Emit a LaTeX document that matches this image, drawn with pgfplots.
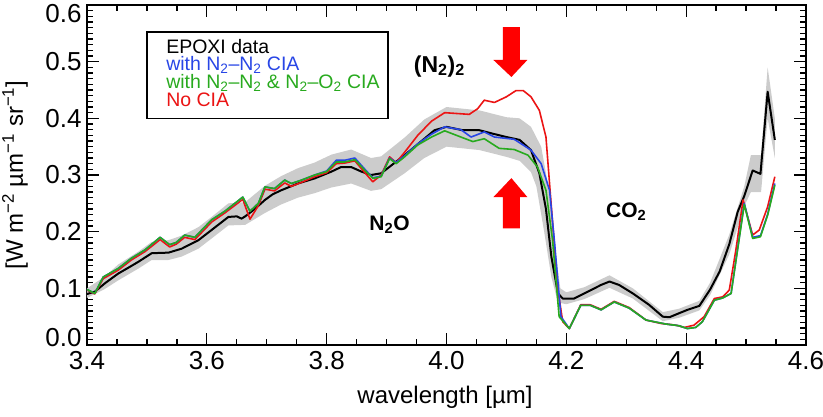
\documentclass[border=0pt]{standalone}
\usepackage{fontspec}
\setmainfont{Liberation Sans}
\usepackage{pgfplots}
\pgfplotsset{compat=1.18}
\definecolor{cblue}{RGB}{40,70,230}
\definecolor{cgreen}{RGB}{40,170,30}
\definecolor{cred}{RGB}{235,20,20}
\definecolor{band}{RGB}{204,204,204}
\begin{document}
\begin{tikzpicture}
\begin{axis}[
  scale only axis, width=719pt, height=340pt,
  xmin=3.4, xmax=4.6, ymin=0, ymax=0.6,
  xtick={3.4,3.6,3.8,4.0,4.2,4.4,4.6},
  xticklabels={3.4,3.6,3.8,4.0,4.2,4.4,4.6},
  ytick={0,0.1,0.2,0.3,0.4,0.5,0.6},
  yticklabels={{\raisebox{0pt}[\height][16pt]{0.0}},0.1,0.2,0.3,0.4,0.5,{\raisebox{0pt}[\dimexpr\height+16pt\relax][0pt]{0.6}}},
  minor x tick num=3, minor y tick num=9,
  major tick length=12pt, minor tick length=6pt,
  tick align=inside, tick style={line width=1.3pt, black},
  axis line style={line width=1.6pt},
  tick label style={font=\fontsize{26}{30}\selectfont},
  xticklabel shift=3pt, yticklabel shift=2pt,
  label style={font=\fontsize{24}{28}\selectfont},
  xlabel={wavelength [µm]},
  ylabel={[W m\textsuperscript{−2} µm\textsuperscript{−1} sr\textsuperscript{−1}]},
  xlabel style={at={(axis description cs:0.498,-0.155)}, anchor=center},
  ylabel style={at={(axis description cs:-0.1,0.5)}, anchor=center, rotate=0},
]
% uncertainty band
\addplot[fill=band, draw=none] coordinates {
(3.400,0.100) (3.430,0.121) (3.452,0.142) (3.486,0.165) (3.508,0.182) (3.536,0.185)
(3.558,0.193) (3.586,0.208) (3.608,0.226) (3.636,0.250) (3.664,0.252) (3.697,0.281)
(3.724,0.298) (3.752,0.312) (3.780,0.322) (3.808,0.336) (3.841,0.345) (3.874,0.330)
(3.891,0.333) (3.930,0.366) (3.963,0.398) (4.000,0.420) (4.055,0.414) (4.100,0.402)
(4.122,0.400) (4.141,0.385) (4.158,0.350) (4.170,0.280) (4.180,0.180) (4.190,0.100)
(4.200,0.093) (4.230,0.102) (4.272,0.123) (4.311,0.100) (4.361,0.058) (4.388,0.064)
(4.422,0.078) (4.440,0.110) (4.472,0.195) (4.497,0.280) (4.508,0.335) (4.525,0.335)
(4.536,0.490) (4.548,0.400)
(4.548,0.330) (4.536,0.400) (4.525,0.270) (4.508,0.270) (4.497,0.245) (4.472,0.160)
(4.440,0.088) (4.422,0.061) (4.388,0.048) (4.361,0.042) (4.311,0.082) (4.272,0.101)
(4.230,0.081) (4.200,0.072) (4.186,0.075) (4.175,0.120) (4.163,0.200) (4.150,0.280)
(4.141,0.305) (4.122,0.325) (4.100,0.332) (4.055,0.344) (4.000,0.350) (3.963,0.330)
(3.930,0.303) (3.891,0.275) (3.874,0.272) (3.841,0.285) (3.808,0.278) (3.780,0.268)
(3.752,0.260) (3.724,0.248) (3.697,0.233) (3.664,0.212) (3.636,0.211) (3.608,0.188)
(3.586,0.170) (3.558,0.156) (3.536,0.150) (3.508,0.150) (3.486,0.135) (3.452,0.114)
(3.430,0.099) (3.400,0.083)
} -- cycle;
% EPOXI data
\addplot[black, line width=2pt, line join=round] coordinates {
(3.400,0.090) (3.413,0.094) (3.430,0.109) (3.452,0.126) (3.470,0.137) (3.486,0.147)
(3.508,0.162) (3.536,0.163) (3.558,0.170) (3.586,0.185) (3.608,0.203) (3.636,0.226)
(3.650,0.227) (3.658,0.223) (3.664,0.227) (3.680,0.240) (3.697,0.256) (3.710,0.266)
(3.724,0.273) (3.752,0.285) (3.780,0.294) (3.808,0.306) (3.824,0.314) (3.841,0.314)
(3.858,0.306) (3.874,0.300) (3.891,0.303) (3.908,0.317) (3.930,0.335) (3.963,0.364)
(3.980,0.379) (4.000,0.385) (4.027,0.379) (4.055,0.379) (4.077,0.373) (4.100,0.367)
(4.122,0.362) (4.141,0.344) (4.155,0.303) (4.166,0.240) (4.175,0.156) (4.186,0.091)
(4.194,0.082) (4.213,0.082) (4.230,0.091) (4.258,0.106) (4.272,0.112) (4.288,0.106)
(4.311,0.091) (4.338,0.071) (4.361,0.050) (4.372,0.049) (4.388,0.056) (4.402,0.062)
(4.422,0.069) (4.440,0.098) (4.456,0.130) (4.472,0.178) (4.486,0.235) (4.497,0.263)
(4.511,0.308) (4.524,0.302) (4.536,0.447) (4.548,0.362)
};
% No CIA
\addplot[cred, line width=1.6pt, line join=round] coordinates {
(3.400,0.097) (3.413,0.090) (3.427,0.117) (3.452,0.132) (3.474,0.150) (3.497,0.165)
(3.522,0.186) (3.538,0.173) (3.549,0.178) (3.563,0.190) (3.580,0.186) (3.608,0.217)
(3.630,0.233) (3.660,0.257) (3.672,0.222) (3.686,0.246) (3.697,0.275) (3.713,0.272)
(3.730,0.286) (3.741,0.280) (3.758,0.287) (3.780,0.297) (3.800,0.304) (3.816,0.320)
(3.830,0.321) (3.847,0.325) (3.863,0.305) (3.877,0.288) (3.891,0.300) (3.905,0.332)
(3.916,0.322) (3.930,0.340) (3.952,0.370) (3.975,0.395) (3.997,0.410) (4.038,0.407)
(4.052,0.417) (4.063,0.432) (4.080,0.428) (4.100,0.438) (4.116,0.449) (4.128,0.449)
(4.141,0.438) (4.155,0.414) (4.166,0.367) (4.175,0.244) (4.186,0.097) (4.194,0.041)
(4.205,0.029) (4.224,0.071) (4.240,0.071) (4.258,0.063) (4.280,0.077) (4.305,0.066)
(4.333,0.044) (4.358,0.038) (4.383,0.035) (4.397,0.031) (4.413,0.035) (4.430,0.050)
(4.447,0.082) (4.461,0.085) (4.472,0.097) (4.483,0.168) (4.495,0.256) (4.511,0.194)
(4.522,0.203) (4.536,0.244) (4.548,0.297)
};
% with N2-N2 CIA
\addplot[cblue, line width=1.6pt, line join=round] coordinates {
(3.400,0.098) (3.413,0.091) (3.427,0.120) (3.452,0.135) (3.474,0.153) (3.497,0.168)
(3.522,0.190) (3.538,0.177) (3.549,0.181) (3.563,0.194) (3.580,0.190) (3.608,0.221)
(3.630,0.236) (3.660,0.261) (3.672,0.236) (3.686,0.250) (3.697,0.279) (3.713,0.276)
(3.730,0.291) (3.741,0.285) (3.758,0.291) (3.780,0.300) (3.800,0.307) (3.816,0.326)
(3.830,0.326) (3.847,0.330) (3.863,0.311) (3.877,0.295) (3.891,0.298) (3.905,0.330)
(3.916,0.322) (3.930,0.334) (3.952,0.355) (3.975,0.372) (3.997,0.385) (4.024,0.380)
(4.041,0.367) (4.063,0.376) (4.080,0.367) (4.113,0.363) (4.141,0.344) (4.158,0.320)
(4.172,0.273) (4.180,0.185) (4.191,0.050) (4.205,0.029) (4.224,0.070) (4.240,0.070)
(4.258,0.062) (4.280,0.076) (4.305,0.065) (4.333,0.044) (4.366,0.037) (4.388,0.034)
(4.402,0.029) (4.416,0.031) (4.427,0.041) (4.447,0.079) (4.461,0.083) (4.475,0.091)
(4.497,0.250) (4.511,0.190) (4.524,0.193) (4.536,0.231) (4.548,0.285)
};
% with N2-N2 & N2-O2 CIA
\addplot[cgreen, line width=1.6pt, line join=round] coordinates {
(3.400,0.098) (3.413,0.091) (3.427,0.120) (3.452,0.135) (3.474,0.153) (3.497,0.168)
(3.522,0.190) (3.538,0.177) (3.549,0.181) (3.563,0.194) (3.580,0.190) (3.608,0.221)
(3.630,0.236) (3.660,0.261) (3.672,0.236) (3.686,0.250) (3.697,0.279) (3.713,0.276)
(3.730,0.291) (3.741,0.285) (3.758,0.291) (3.780,0.300) (3.800,0.306) (3.816,0.323)
(3.830,0.323) (3.847,0.327) (3.863,0.309) (3.877,0.294) (3.891,0.297) (3.905,0.329)
(3.916,0.320) (3.930,0.332) (3.952,0.353) (3.975,0.367) (3.997,0.378) (4.024,0.367)
(4.044,0.359) (4.063,0.364) (4.088,0.347) (4.113,0.345) (4.136,0.335) (4.152,0.314)
(4.166,0.273) (4.177,0.185) (4.188,0.050) (4.205,0.029) (4.224,0.070) (4.240,0.070)
(4.258,0.062) (4.280,0.076) (4.305,0.065) (4.333,0.044) (4.366,0.037) (4.388,0.034)
(4.402,0.029) (4.416,0.031) (4.427,0.041) (4.447,0.079) (4.461,0.083) (4.475,0.091)
(4.497,0.248) (4.511,0.188) (4.524,0.191) (4.536,0.229) (4.548,0.282)
};
% arrows
\fill[red] (axis cs:4.0942,0.561) -- (axis cs:4.1225,0.561) -- (axis cs:4.1225,0.503)
  -- (axis cs:4.135,0.503) -- (axis cs:4.1083,0.473) -- (axis cs:4.0783,0.503)
  -- (axis cs:4.0942,0.503) -- cycle;
\fill[red] (axis cs:4.0942,0.206) -- (axis cs:4.1225,0.206) -- (axis cs:4.1225,0.261)
  -- (axis cs:4.135,0.261) -- (axis cs:4.1083,0.2945) -- (axis cs:4.0783,0.261)
  -- (axis cs:4.0942,0.261) -- cycle;
% annotations
\node[font=\fontsize{23}{26}\selectfont\bfseries] at (axis cs:3.988,0.492) {(N\textsubscript{2})\textsubscript{2}};
\node[font=\fontsize{21}{24}\selectfont\bfseries] at (axis cs:3.905,0.2116) {N\textsubscript{2}O};
\node[font=\fontsize{21}{24}\selectfont\bfseries] at (axis cs:4.30,0.236) {CO\textsubscript{2}};
% legend
\draw[line width=1.5pt, fill=white] (axis cs:3.5,0.400) rectangle (axis cs:3.902,0.552);
\node[anchor=base west, inner sep=0pt, font=\fontsize{19.5}{20}\selectfont] at (axis cs:3.532,0.515) {EPOXI data};
\node[anchor=base west, inner sep=0pt, text=cblue, font=\fontsize{19.5}{20}\selectfont] at (axis cs:3.532,0.484) {with N\textsubscript{2}–N\textsubscript{2} CIA};
\node[anchor=base west, inner sep=0pt, text=cgreen, font=\fontsize{19.5}{20}\selectfont] at (axis cs:3.532,0.453) {with N\textsubscript{2}–N\textsubscript{2} \& N\textsubscript{2}–O\textsubscript{2} CIA};
\node[anchor=base west, inner sep=0pt, text=cred, font=\fontsize{19.5}{20}\selectfont] at (axis cs:3.532,0.421) {No CIA};
\end{axis}
\pgfresetboundingbox
\path[use as bounding box] ([xshift=-87pt,yshift=-71pt]current axis.south west) rectangle ++(823pt,416pt);
\end{tikzpicture}
\end{document}
